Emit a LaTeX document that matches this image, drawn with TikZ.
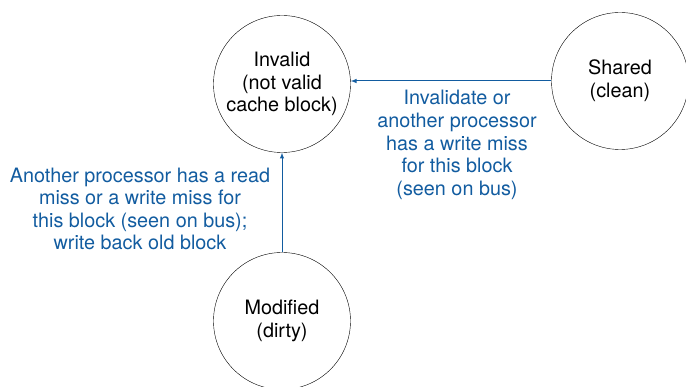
\documentclass[tikz,border=0pt]{standalone}
\usepackage{fontspec}
\setmainfont{TeX Gyre Heros}
\definecolor{busblue}{RGB}{18,92,160}
\begin{document}
\begin{tikzpicture}[x=1pt, y=-1pt,
    state/.style={draw, circle, minimum size=137pt, inner sep=0pt, align=center, font=\fontsize{19.8}{22.8}\selectfont},
    note/.style={align=center, text=busblue, font=\fontsize{19.8}{22.6}\selectfont},
    trans/.style={->, >=latex, busblue, line width=1pt}]
    \useasboundingbox (0,0) rectangle (686,387);

    \node[state] (invalid) at (282, 84) {Invalid\\(not valid\\cache block)};
    \node[state] (shared) at (620, 81) {Shared\\(clean)};
    \node[state] (modified) at (282, 321) {Modified\\(dirty)};

    \draw[trans] (shared.west) -- (shared.west -| invalid.east);
    \draw[trans] (modified) -- (invalid);

    \node[note] (readmiss) at (140, 209) {Another processor has a read\\miss or a write miss for\\this block (seen on bus);\\write back old block};
    \node[note] (writemiss) at (457, 145) {Invalidate or\\another processor\\has a write miss\\for this block\\(seen on bus)};
\end{tikzpicture}
\end{document}
